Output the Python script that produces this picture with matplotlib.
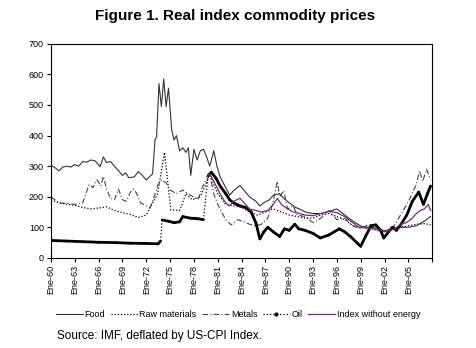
import numpy as np
import matplotlib
matplotlib.use("Agg")
import matplotlib.pyplot as plt
from matplotlib.collections import LineCollection
from matplotlib.lines import Line2D

plt.rcParams['font.family'] = ['Liberation Sans', 'DejaVu Sans']

# -----------------------------
# Data (decimal years)
# -----------------------------
food_t = [1960, 1960.5, 1961, 1961.5, 1962, 1962.5, 1963, 1963.5, 1964, 1964.5, 1965, 1965.5,
          1966, 1966.2, 1966.6, 1967, 1967.5, 1968, 1968.5, 1969, 1969.4, 1969.8, 1970.5, 1971,
          1971.5, 1972, 1972.4, 1972.8, 1973.1, 1973.3, 1973.6, 1973.9, 1974.2, 1974.5, 1974.8,
          1975.2, 1975.5, 1975.8, 1976.2, 1976.6, 1977, 1977.3, 1977.6, 1978, 1978.4, 1978.8,
          1979.2, 1979.6, 1980, 1980.5, 1980.9, 1981.3, 1981.8, 1982.5, 1983, 1983.8, 1984.5,
          1985, 1985.8, 1986.3, 1986.8, 1987.5, 1988, 1988.8, 1989.3, 1990, 1990.8, 1991.3,
          1992, 1993, 1994, 1995, 1996, 1996.5, 1997.5, 1998.3, 1999.2, 2000, 2001, 2002,
          2003, 2004, 2005, 2006, 2007, 2007.8]
food_v = [303, 295, 285, 297, 300, 297, 305, 300, 315, 313, 320, 318,
          305, 298, 330, 312, 315, 300, 285, 270, 278, 262, 265, 282,
          270, 255, 265, 275, 385, 395, 570, 495, 585, 495, 555,
          420, 385, 400, 350, 360, 345, 360, 270, 355, 320, 350,
          355, 330, 300, 350, 300, 265, 240, 205, 220, 237, 215,
          200, 185, 170, 180, 190, 205, 210, 195, 180, 165, 160,
          150, 145, 145, 152, 160, 150, 130, 115, 102, 100, 98, 88,
          95, 100, 100, 105, 120, 135]

raw_t = [1960, 1961, 1962, 1963, 1964, 1965, 1966, 1967, 1968, 1969, 1970, 1971, 1972,
         1972.8, 1973.4, 1974.3, 1974.7, 1975.1, 1976.2, 1977, 1977.8, 1978.8, 1979.5,
         1980, 1980.5, 1981, 1982, 1983, 1984, 1985, 1986, 1987, 1988, 1989, 1990, 1991,
         1992, 1993, 1994, 1995, 1996, 1997, 1998, 1999, 2000, 2001, 2002, 2003, 2004,
         2005, 2006, 2007, 2007.8]
raw_v = [190, 180, 175, 172, 165, 160, 163, 167, 155, 148, 142, 132, 140,
         180, 206, 345, 250, 157, 155, 210, 190, 200, 240,
         275, 240, 210, 175, 170, 165, 150, 140, 150, 160, 150, 140, 135,
         130, 130, 140, 145, 135, 125, 105, 100, 100, 90, 88, 92, 100,
         105, 110, 112, 108]

metals_t = [1960, 1960.5, 1961, 1962, 1963, 1964, 1964.8, 1965.3, 1965.8, 1966.3, 1966.6,
            1967, 1967.5, 1968, 1968.5, 1969, 1969.5, 1970, 1970.4, 1970.8, 1971.3, 1972,
            1972.5, 1973, 1973.5, 1974, 1974.5, 1975, 1975.8, 1976.6, 1977.2, 1977.9, 1978.5,
            1979.1, 1979.6, 1980, 1980.5, 1981, 1981.5, 1982, 1982.7, 1983.5, 1984.3, 1985,
            1985.8, 1986.5, 1987.3, 1987.9, 1988.5, 1988.8, 1989.3, 1989.8, 1990.5, 1991,
            1992, 1993, 1994, 1995, 1996, 1997, 1998, 1999, 2000, 2001, 2002, 2003, 2004,
            2004.7, 2005.3, 2006, 2006.4, 2006.8, 2007.3, 2007.8]
metals_v = [200, 190, 180, 178, 175, 180, 240, 230, 255, 235, 266,
            225, 195, 190, 225, 190, 185, 215, 225, 210, 180, 170,
            165, 200, 240, 255, 245, 222, 210, 222, 210, 200, 190,
            233, 255, 270, 210, 175, 150, 125, 108, 125, 118, 110,
            105, 110, 130, 175, 250, 200, 220, 160, 170, 140,
            135, 115, 130, 155, 125, 130, 105, 95, 110, 90, 85, 95, 140,
            170, 200, 240, 285, 250, 290, 255]

oil_t = [1960, 1962, 1964, 1966, 1968, 1970, 1972, 1973.5, 1973.8, 1974, 1974.8, 1975.5,
         1976.2, 1976.6, 1977.5, 1978.5, 1979.2, 1979.5, 1979.8, 1980.2, 1980.8, 1981.3,
         1982, 1982.5, 1983, 1983.8, 1984.5, 1985.2, 1985.8, 1986.3, 1986.8, 1987.3, 1988,
         1988.8, 1989.4, 1990, 1990.7, 1991.2, 1992, 1993, 1993.9, 1995, 1996.3, 1997,
         1997.7, 1998.5, 1999, 1999.6, 2000.3, 2000.9, 2001.5, 2001.9, 2002.5, 2003,
         2003.5, 2004.2, 2004.8, 2005.5, 2006.3, 2006.9, 2007.4, 2007.8]
oil_v = [57, 55, 53, 51, 50, 48, 47, 46, 55, 124, 120, 115,
         118, 135, 130, 128, 125, 200, 270, 280, 260, 235,
         210, 190, 180, 170, 165, 150, 115, 62, 85, 100, 85,
         70, 95, 90, 110, 95, 90, 80, 65, 75, 95, 85,
         70, 50, 38, 70, 105, 108, 90, 65, 85, 100,
         90, 115, 140, 185, 215, 175, 210, 235]

idx_t = [1979.6, 1980, 1980.5, 1981, 1981.5, 1982, 1982.5, 1983, 1983.8, 1984.5, 1985,
         1985.8, 1986.5, 1987.3, 1988, 1988.5, 1989, 1989.8, 1990.5, 1991.3, 1992, 1993,
         1994, 1995, 1996, 1997, 1998, 1998.8, 1999.5, 2000.5, 2001.5, 2002.5, 2003.3,
         2004, 2004.7, 2005.3, 2006, 2006.5, 2007, 2007.5, 2007.8]
idx_v = [265, 275, 250, 225, 200, 180, 170, 185, 195, 175, 160,
         155, 150, 155, 175, 195, 175, 160, 150, 145, 140, 138,
         145, 152, 148, 135, 115, 100, 98, 95, 90, 88, 95,
         110, 115, 125, 145, 155, 160, 175, 155]

tick_years = list(range(1960, 2009, 3))
tick_labels = ["Ene-%02d" % (y % 100) for y in tick_years[:-1]] + [""]

# -----------------------------
# Figure
# -----------------------------
fig = plt.figure(figsize=(4.76, 3.48), dpi=100)
ax = fig.add_axes([0.107, 0.259, 0.801, 0.615])

ax.plot(food_t, food_v, color="#333333", lw=0.8, label="Food")
ax.plot(raw_t, raw_v, color="black", lw=0.9, ls=(0, (1, 1.5)), label="Raw materials")
ax.plot(metals_t, metals_v, color="#444444", lw=0.8, ls=(0, (5, 2, 1, 2)), label="Metals")

# oil: thick where the series moves slowly, thin dotted at the big jumps
pts = np.column_stack([oil_t, oil_v])
segs = np.stack([pts[:-1], pts[1:]], axis=1)
jump = np.abs(np.diff(oil_v)) > 60
ax.add_collection(LineCollection(segs[~jump], colors="black", linewidths=2.0, capstyle="round"))
ax.add_collection(LineCollection(segs[jump], colors="black", linewidths=0.9, linestyles=":"))

ax.plot(idx_t, idx_v, color="#7b2a83", lw=0.9, label="Index without energy")

ax.set_xlim(1960, 2008)
ax.set_ylim(0, 700)
ax.set_yticks(range(0, 701, 100))
ax.set_xticks(tick_years)
ax.set_xticklabels(tick_labels, rotation=90)
ax.tick_params(labelsize=6.5, length=3, width=0.8, colors="black", pad=2)
for s in ax.spines.values():
    s.set_linewidth(0.8)

handles = [
    Line2D([], [], color="#333333", lw=0.8),
    Line2D([], [], color="black", lw=0.9, ls=(0, (1, 1.5))),
    Line2D([], [], color="#444444", lw=0.8, ls=(0, (5, 2, 1, 2))),
    Line2D([], [], color="black", lw=0.9, ls=":", marker="o", ms=2),
    Line2D([], [], color="#7b2a83", lw=0.9),
]
names = ["Food", "Raw materials", "Metals", "Oil", "Index without energy"]
fig.legend(handles, names, loc="center", bbox_to_anchor=(0.5, 0.095), ncol=5,
           fontsize=6.5, frameon=False, handlelength=3.0, handletextpad=0.2,
           columnspacing=0.6)

fig.text(0.494, 0.955, "Figure 1. Real index commodity prices", ha="center", va="center",
         fontsize=11, fontweight="bold")
fig.text(0.12, 0.035, "Source: IMF, deflated by US-CPI Index.", ha="left", va="center",
         fontsize=8.5)

fig.savefig("out.png", dpi=100)
